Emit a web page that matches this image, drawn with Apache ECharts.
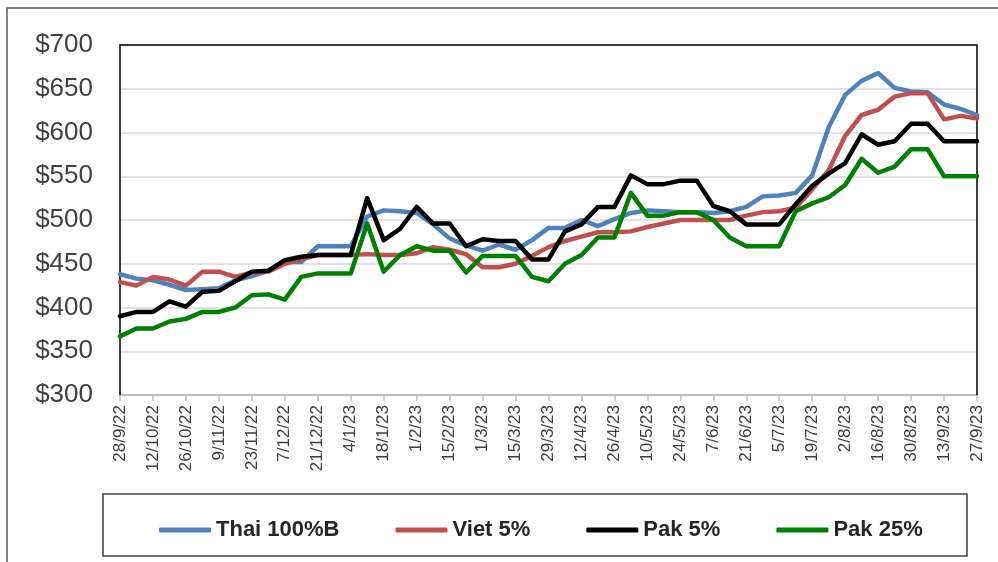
<!DOCTYPE html>
<html>
<head>
<meta charset="utf-8">
<script src="https://cdn.jsdelivr.net/npm/echarts@6/dist/echarts.min.js"></script>
<style>
html,body{margin:0;padding:0;background:#fff;}
#c{width:998px;height:562px;}
</style>
</head>
<body>
<div id="c"></div>
<script>
const weeks = ['28/9/22','5/10/22','12/10/22','19/10/22','26/10/22','2/11/22','9/11/22','16/11/22','23/11/22','30/11/22',
'7/12/22','14/12/22','21/12/22','28/12/22','4/1/23','11/1/23','18/1/23','25/1/23','1/2/23','8/2/23',
'15/2/23','22/2/23','1/3/23','8/3/23','15/3/23','22/3/23','29/3/23','5/4/23','12/4/23','19/4/23',
'26/4/23','3/5/23','10/5/23','17/5/23','24/5/23','31/5/23','7/6/23','14/6/23','21/6/23','28/6/23',
'5/7/23','12/7/23','19/7/23','26/7/23','2/8/23','9/8/23','16/8/23','23/8/23','30/8/23','6/9/23',
'13/9/23','20/9/23','27/9/23'];

const thai100B = [438,433,431,426,420,421,422,431,436,442,
452,452,470,470,470,504,511,510,508,495,
479,471,465,472,466,477,491,491,500,493,
501,508,511,510,509,509,508,510,515,527,
528,531,551,606,643,659,668,651,647,646,
632,627,620];

const viet5 = [429,425,435,432,425,441,441,435,440,441,
450,455,460,460,460,461,460,460,462,469,
466,461,446,446,450,459,469,476,481,486,
486,487,492,496,500,500,500,500,505,509,
510,514,535,557,596,620,626,641,645,645,
615,619,616];

const pak5 = [390,395,395,407,401,418,419,430,441,442,
454,458,460,460,460,525,477,490,515,496,
496,470,478,476,476,455,455,487,495,515,
515,551,541,541,545,545,516,510,495,495,
495,518,539,553,565,598,586,590,610,610,
590,590,590];

const pak25 = [367,376,376,384,387,395,395,400,414,415,
409,435,439,439,439,496,441,460,470,465,
465,440,459,459,459,435,430,450,460,480,
480,531,505,505,509,509,500,480,470,470,
470,510,519,526,540,570,554,561,581,581,
550,550,550];

const seriesNames = ['Thai 100%B','Viet 5%','Pak 5%','Pak 25%'];
const seriesData = [thai100B, viet5, pak5, pak25];
const seriesColors = ['#4F81BD','#C0504D','#000000','#008000'];

const chart = echarts.init(document.getElementById('c'), null, {renderer:'canvas'});
const option = {
  backgroundColor:'#ffffff',
  animation:false,
  graphic:[
    {type:'rect', shape:{x:7,y:8,width:1000,height:600}, style:{fill:'none',stroke:'#595959',lineWidth:1.5}, silent:true, z:-1},
    {type:'rect', shape:{x:103,y:494,width:864,height:62}, style:{fill:'none',stroke:'#404040',lineWidth:1.5}, silent:true},
    {type:'polyline', shape:{points:[[120,395],[120,45],[977,45],[977,395]]}, style:{fill:'none',stroke:'#000',lineWidth:1.5}, silent:true, z:1}
  ],
  grid:{left:120,right:21,top:45,bottom:167,show:false},
  legend:{
    data:seriesNames,
    left:154, top:514,
    itemWidth:52, itemHeight:5, itemGap:56,
    icon:'roundRect',
    textStyle:{fontFamily:'Liberation Sans, Arial, sans-serif',fontWeight:'bold',fontSize:22,color:'#262626'}
  },
  xAxis:{
    type:'category',
    data:weeks,
    boundaryGap:false,
    axisLine:{show:true,lineStyle:{color:'#bfbfbf',width:2}},
    axisTick:{show:true,interval:1,length:6,lineStyle:{color:'#bfbfbf',width:1.5}},
    axisLabel:{interval:1,rotate:90,margin:10,fontSize:17,color:'#404040',fontFamily:'Liberation Sans, Arial, sans-serif'},
    splitLine:{show:false}
  },
  yAxis:{
    type:'value',
    min:300,max:700,interval:50,
    axisLine:{show:false},
    axisTick:{show:false},
    axisLabel:{formatter:'${value}',fontSize:26,color:'#404040',margin:27,fontFamily:'Liberation Sans, Arial, sans-serif'},
    splitLine:{show:true,lineStyle:{color:'#d9d9d9',width:1.5}}
  },
  series: seriesNames.map((n,i)=>({
    name:n,
    type:'line',
    data:seriesData[i],
    symbol:'none',
    smooth:false,
    color:seriesColors[i],
    lineStyle:{width:4.5,color:seriesColors[i],cap:'round',join:'round'}
  }))
};
chart.setOption(option);
</script>
</body>
</html>
